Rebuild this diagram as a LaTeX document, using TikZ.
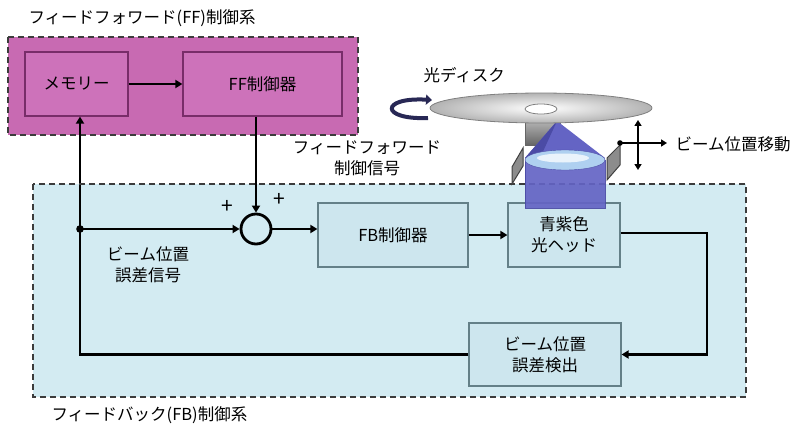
\documentclass[tikz,border=0pt]{standalone}
\usepackage{fontspec}
\setmainfont{Noto Sans CJK JP}
\usetikzlibrary{arrows.meta}

\definecolor{ffpink}{RGB}{200,106,178}
\definecolor{ffinner}{RGB}{205,114,186}
\definecolor{ffedge}{RGB}{120,45,105}
\definecolor{fbblue}{RGB}{211,235,242}
\definecolor{fbinner}{RGB}{205,230,238}
\definecolor{fbedge}{RGB}{100,128,136}
\definecolor{dashgray}{RGB}{60,60,60}
\definecolor{beamblue}{RGB}{100,100,196}
\definecolor{beamdark}{RGB}{75,75,165}
\definecolor{lensblue}{RGB}{175,208,240}
\definecolor{navy}{RGB}{40,40,85}

\tikzset{
  every node/.style={font=\fontsize{16.5}{21}\selectfont},
  sysframe/.style={draw=dashgray, line width=2pt, dash pattern=on 6pt off 4pt},
  ffblock/.style={draw=ffedge, line width=1.2pt, fill=ffinner, inner sep=0pt,
    minimum height=64pt, minimum width=#1},
  fbblock/.style={draw=fbedge, line width=1.2pt, fill=fbinner, inner sep=0pt,
    align=center, minimum height=64pt, minimum width=#1},
  flow/.style={line width=2.8pt, -{Triangle[length=7pt,width=8pt]}},
  plate/.style={draw=black!75, line width=1pt, fill=black!45}
}

\begin{document}
\begin{tikzpicture}[x=1pt,y=-1pt]
  \useasboundingbox (0,0) rectangle (800,425);

  % feedforward and feedback frames
  \fill[ffpink] (8,37) rectangle (358,135);
  \draw[sysframe] (8,37) rectangle (358,135);
  \node[anchor=west] (fftitle) at (25,18) {フィードフォワード(FF)制御系};
  \fill[fbblue] (33,184) rectangle (746,397);
  \node[anchor=west] (fbtitle) at (48,415) {フィードバック(FB)制御系};

  % blocks
  \node[ffblock=103pt] (memory) at (76.5,84) {メモリー};
  \node[ffblock=159pt] (ffctrl) at (262.5,84) {FF制御器};
  \node[draw, circle, line width=2.8pt, fill=fbblue, minimum size=30pt, inner sep=0pt] (sum) at (256,229) {};
  \node[fbblock=150pt] (fbctrl) at (393,235) {FB制御器};
  \node[fbblock=112pt] (head) at (564,235) {青紫色\\光ヘッド};
  \node[fbblock=152pt, minimum height=63pt] (detect) at (545,354.5) {ビーム位置\\誤差検出};

  \coordinate (split) at (80,229);
  \coordinate (turn) at (707,0);

  % signal lines
  \draw[flow] (memory) -- (ffctrl);
  \draw[flow] (sum |- ffctrl.south) -- (sum.north);
  \draw[flow] (split) -- (sum.west);
  \draw[flow] (sum.east) -- (sum.east -| fbctrl.west);
  \draw[flow] (fbctrl.east |- 0,235) -- (head.west);
  \draw[flow] (head.east |- 0,233) -- (turn |- 0,233) |- (detect.east);
  \draw[flow] (detect.west) -- (split |- detect.west) -- (split |- memory.south);
  \fill (split) circle (3.8pt);

  \node (plusl) at (227,207) {\fontsize{21}{21}\selectfont +};
  \node (plusr) at (279,200) {\fontsize{21}{21}\selectfont +};
  \node[align=center] (errsig) at (148,265) {ビーム位置\\誤差信号};
  \node[align=center] (ffsig) at (367,158) {フィードフォワード\\制御信号};

  % dashed border of the feedback frame
  \draw[sysframe] (33,184) rectangle (746,397);

  % optical pickup
  \shade[top color=black!30, bottom color=black!60, draw=black!60] (525,121) rectangle (560,145);
  \fill[beamblue] (557,121) -- (605,158) -- (525,158) -- cycle;
  \fill[beamdark] (557,121) -- (540,158) -- (525,158) -- cycle;
  \draw[beamdark, fill=beamblue, opacity=0.92] (525,160) rectangle (605,208);
  \draw[beamdark, fill=lensblue] (565,160) ellipse [x radius=40pt, y radius=10pt];
  \fill[white, opacity=0.75] (563,158) ellipse [x radius=26pt, y radius=4.5pt];
  \draw[plate] (512,167) -- (523,148) -- (523,166) -- (512,184) -- cycle;
  \draw[plate] (607,158) -- (620,145) -- (620,165) -- (607,180) -- cycle;

  % disc
  \shade[inner color=white, outer color=black!30, draw=black!50, line width=0.8pt]
    (541,108) ellipse [x radius=111pt, y radius=15pt];
  \draw[black!50, fill=white, line width=0.8pt] (541,109) ellipse [x radius=16pt, y radius=5pt];
  \draw[navy, line width=4pt, -{Triangle[length=6pt,width=10pt]}]
    (428,118) .. controls (380,120) and (380,97) .. (432,100);
  \node[anchor=west] (disc) at (420,75) {光ディスク};

  % beam position movement
  \coordinate (mvup) at (638,120);
  \coordinate (mvdown) at (638,170);
  \coordinate (mvfrom) at (620,143);
  \coordinate (mvto) at (667,143);
  \draw[line width=2pt, {Triangle[length=6pt,width=7pt]}-{Triangle[length=6pt,width=7pt]}] (mvup) -- (mvdown);
  \draw[line width=2pt, -{Triangle[length=6pt,width=7pt]}] (mvfrom) -- (mvto);
  \fill (mvfrom) circle (2.8pt);
  \node[anchor=west] (move) at (672,144) {ビーム位置移動};
\end{tikzpicture}
\end{document}
